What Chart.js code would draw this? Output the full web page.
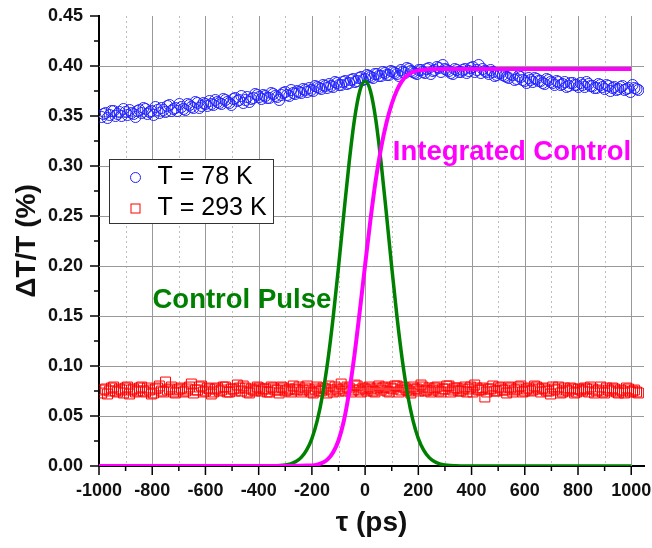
<!DOCTYPE html>
<html>
<head>
<meta charset="utf-8">
<script src="https://cdn.jsdelivr.net/npm/chart.js@4.4.1/dist/chart.umd.min.js"></script>
<style>
  html, body { margin: 0; padding: 0; background: #fff; }
  #grafico { display: block; }
</style>
</head>
<body>
<canvas id="grafico" width="652" height="548"></canvas>
<script>
// --- DADOS ---
// duas varreduras intercaladas de cada amostra
const tau = [
  -990, -975, -960, -945, -930, -915, -900, -885, -870, -855,
  -840, -825, -810, -795, -780, -765, -750, -735, -720, -705,
  -690, -675, -660, -645, -630, -615, -600, -585, -570, -555,
  -540, -525, -510, -495, -480, -465, -450, -435, -420, -405,
  -390, -375, -360, -345, -330, -315, -300, -285, -270, -255,
  -240, -225, -210, -195, -180, -165, -150, -135, -120, -105,
  -90, -75, -60, -45, -30, -15, 0, 15, 30, 45,
  60, 75, 90, 105, 120, 135, 150, 165, 180, 195,
  210, 225, 240, 255, 270, 285, 300, 315, 330, 345,
  360, 375, 390, 405, 420, 435, 450, 465, 480, 495,
  510, 525, 540, 555, 570, 585, 600, 615, 630, 645,
  660, 675, 690, 705, 720, 735, 750, 765, 780, 795,
  810, 825, 840, 855, 870, 885, 900, 915, 930, 945,
  960, 975, 990, 1005, 1020
];
const tau2 = [
  -983, -968, -953, -938, -923, -908, -893, -878, -863, -848,
  -833, -818, -803, -788, -773, -758, -743, -728, -713, -698,
  -683, -668, -653, -638, -623, -608, -593, -578, -563, -548,
  -533, -518, -503, -488, -473, -458, -443, -428, -413, -398,
  -383, -368, -353, -338, -323, -308, -293, -278, -263, -248,
  -233, -218, -203, -188, -173, -158, -143, -128, -113, -98,
  -83, -68, -53, -38, -23, -8, 7, 22, 37, 52,
  67, 82, 97, 112, 127, 142, 157, 172, 187, 202,
  217, 232, 247, 262, 277, 292, 307, 322, 337, 352,
  367, 382, 397, 412, 427, 442, 457, 472, 487, 502,
  517, 532, 547, 562, 577, 592, 607, 622, 637, 652,
  667, 682, 697, 712, 727, 742, 757, 772, 787, 802,
  817, 832, 847, 862, 877, 892, 907, 922, 937, 952,
  967, 982, 997, 1012, 1027
];

const t78K = [
  0.349, 0.353, 0.351, 0.355, 0.352, 0.350, 0.354, 0.356, 0.352, 0.355,
  0.353, 0.357, 0.354, 0.351, 0.356, 0.358, 0.354, 0.361, 0.357, 0.355,
  0.359, 0.356, 0.361, 0.358, 0.363, 0.360, 0.362, 0.365, 0.361, 0.364,
  0.362, 0.366, 0.363, 0.367, 0.365, 0.370, 0.366, 0.364, 0.368, 0.371,
  0.367, 0.370, 0.368, 0.372, 0.369, 0.371, 0.374, 0.370, 0.373, 0.375,
  0.373, 0.376, 0.378, 0.375, 0.379, 0.377, 0.380, 0.382, 0.379, 0.383,
  0.381, 0.385, 0.383, 0.387, 0.385, 0.389, 0.387, 0.390, 0.388, 0.392,
  0.390, 0.393, 0.391, 0.394, 0.392, 0.396, 0.393, 0.397, 0.394, 0.392,
  0.396, 0.393, 0.398, 0.395, 0.399, 0.394, 0.397, 0.395, 0.392, 0.396,
  0.394, 0.397, 0.395, 0.399, 0.396, 0.393, 0.395, 0.392, 0.394, 0.391,
  0.393, 0.390, 0.388, 0.391, 0.387, 0.389, 0.385, 0.388, 0.384, 0.387,
  0.385, 0.382, 0.386, 0.383, 0.385, 0.381, 0.384, 0.380, 0.383, 0.381,
  0.383, 0.379, 0.382, 0.380, 0.378, 0.381, 0.377, 0.380, 0.378, 0.376,
  0.379, 0.376, 0.378, 0.381, 0.377
];
const t78Kb = [
  0.352, 0.348, 0.355, 0.350, 0.354, 0.357, 0.351, 0.353, 0.349, 0.356,
  0.358, 0.352, 0.355, 0.359, 0.353, 0.356, 0.360, 0.355, 0.358, 0.362,
  0.357, 0.362, 0.359, 0.364, 0.358, 0.363, 0.360, 0.362, 0.366, 0.363,
  0.367, 0.364, 0.361, 0.368, 0.366, 0.363, 0.369, 0.367, 0.372, 0.369,
  0.371, 0.368, 0.373, 0.370, 0.366, 0.373, 0.371, 0.376, 0.372, 0.374,
  0.377, 0.374, 0.376, 0.380, 0.378, 0.381, 0.378, 0.380, 0.384, 0.381,
  0.384, 0.382, 0.386, 0.384, 0.388, 0.386, 0.391, 0.389, 0.392, 0.390,
  0.394, 0.391, 0.395, 0.393, 0.390, 0.394, 0.398, 0.395, 0.393, 0.396,
  0.394, 0.397, 0.392, 0.396, 0.398, 0.401, 0.396, 0.393, 0.397, 0.394,
  0.396, 0.393, 0.398, 0.394, 0.401, 0.397, 0.394, 0.396, 0.390, 0.393,
  0.391, 0.389, 0.392, 0.386, 0.390, 0.386, 0.383, 0.386, 0.388, 0.385,
  0.383, 0.387, 0.384, 0.381, 0.384, 0.382, 0.379, 0.383, 0.381, 0.379,
  0.381, 0.384, 0.380, 0.378, 0.382, 0.379, 0.381, 0.375, 0.379, 0.377,
  0.380, 0.377, 0.374, 0.378, 0.376
];

const t293K = [
  0.073, 0.077, 0.075, 0.079, 0.074, 0.076, 0.078, 0.072, 0.077, 0.075,
  0.079, 0.074, 0.076, 0.073, 0.078, 0.075, 0.084, 0.077, 0.074, 0.076,
  0.078, 0.075, 0.079, 0.073, 0.076, 0.080, 0.075, 0.077, 0.074, 0.078,
  0.076, 0.079, 0.074, 0.077, 0.081, 0.075, 0.078, 0.073, 0.076, 0.079,
  0.075, 0.077, 0.074, 0.078, 0.076, 0.079, 0.075, 0.077, 0.080, 0.076,
  0.074, 0.078, 0.076, 0.073, 0.079, 0.075, 0.077, 0.080, 0.074, 0.077,
  0.082, 0.075, 0.078, 0.076, 0.080, 0.074, 0.077, 0.079, 0.075, 0.078,
  0.076, 0.079, 0.074, 0.077, 0.080, 0.076, 0.078, 0.075, 0.079, 0.077,
  0.081, 0.075, 0.078, 0.076, 0.079, 0.074, 0.077, 0.080, 0.076, 0.078,
  0.075, 0.079, 0.077, 0.074, 0.078, 0.076, 0.069, 0.077, 0.080, 0.075,
  0.078, 0.076, 0.079, 0.074, 0.077, 0.080, 0.075, 0.078, 0.076, 0.079,
  0.074, 0.077, 0.075, 0.079, 0.076, 0.073, 0.078, 0.075, 0.077, 0.074,
  0.076, 0.078, 0.074, 0.077, 0.075, 0.079, 0.073, 0.076, 0.078, 0.074,
  0.076, 0.073, 0.077, 0.075, 0.074
];
const t293Kb = [
  0.076, 0.072, 0.078, 0.075, 0.077, 0.073, 0.079, 0.076, 0.074, 0.078,
  0.075, 0.078, 0.072, 0.077, 0.080, 0.074, 0.076, 0.079, 0.073, 0.077,
  0.074, 0.077, 0.082, 0.076, 0.079, 0.074, 0.078, 0.072, 0.077, 0.075,
  0.079, 0.074, 0.077, 0.075, 0.078, 0.080, 0.074, 0.077, 0.075, 0.078,
  0.077, 0.074, 0.079, 0.076, 0.073, 0.078, 0.076, 0.074, 0.077, 0.079,
  0.076, 0.080, 0.074, 0.077, 0.075, 0.078, 0.073, 0.076, 0.079, 0.075,
  0.077, 0.079, 0.074, 0.081, 0.076, 0.078, 0.075, 0.077, 0.074, 0.080,
  0.078, 0.075, 0.078, 0.080, 0.074, 0.079, 0.076, 0.073, 0.077, 0.075,
  0.079, 0.076, 0.074, 0.078, 0.075, 0.077, 0.080, 0.074, 0.078, 0.075,
  0.077, 0.074, 0.079, 0.081, 0.076, 0.078, 0.074, 0.077, 0.075, 0.079,
  0.076, 0.073, 0.078, 0.076, 0.079, 0.074, 0.077, 0.075, 0.080, 0.077,
  0.078, 0.075, 0.072, 0.077, 0.079, 0.074, 0.076, 0.078, 0.073, 0.077,
  0.075, 0.077, 0.079, 0.073, 0.076, 0.074, 0.078, 0.075, 0.077, 0.073,
  0.075, 0.078, 0.074, 0.076, 0.073
];

// pulso de controle (curva verde)
const pulseX = [-340, -320, -300, -280, -260, -240, -220, -200, -180, -160, -140, -120, -100, -80, -60, -40, -20, 0,
  20, 40, 60, 80, 100, 120, 140, 160, 180, 200, 220, 240, 260, 280, 300, 320, 340, 360, 1000];
const pulseY = [0.0002, 0.0004, 0.0010, 0.0022, 0.0044, 0.0086, 0.0158, 0.0274, 0.0453, 0.0710, 0.1055, 0.1487, 0.1989, 0.2522, 0.3035, 0.3466, 0.3750, 0.3850,
  0.3750, 0.3466, 0.3035, 0.2522, 0.1989, 0.1487, 0.1055, 0.0710, 0.0453, 0.0274, 0.0158, 0.0086, 0.0044, 0.0022, 0.0010, 0.0004, 0.0002, 0.0001, 0];

// controle integrado (curva magenta)
const integX = [-1000, -300, -260, -220, -200, -180, -160, -140, -120, -100, -80, -60, -40, -20, 0,
  20, 40, 60, 80, 100, 120, 140, 160, 180, 200, 240, 300, 1000];
const integY = [0, 0, 0.0002, 0.0004, 0.0006, 0.0014, 0.0032, 0.0068, 0.0137, 0.0255, 0.045, 0.074, 0.111, 0.155, 0.201,
  0.246, 0.286, 0.318, 0.343, 0.362, 0.376, 0.3855, 0.391, 0.394, 0.3956, 0.3968, 0.397, 0.397];

const xTicks = [-1000, -900, -800, -700, -600, -500, -400, -300, -200, -100, 0, 100, 200, 300, 400, 500, 600, 700, 800, 900, 1000];
const xLabels = [-1000, -800, -600, -400, -200, 0, 200, 400, 600, 800, 1000];
const yTicks = [0, 0.025, 0.05, 0.075, 0.1, 0.125, 0.15, 0.175, 0.2, 0.225, 0.25, 0.275, 0.3, 0.325, 0.35, 0.375, 0.4, 0.425, 0.45];
const yLabels = ['0.00', '0.05', '0.10', '0.15', '0.20', '0.25', '0.30', '0.35', '0.40', '0.45'];

const FONTE = "'Liberation Sans', Arial, sans-serif";
const pares = (xs, ys) => xs.map((v, i) => ({ x: v, y: ys[i] }));
const ehMaiorY = (v) => Math.round(v * 1000) % 50 === 0;

// --- GRADE, MARCAS, LEGENDA E RÓTULOS ---
const moldura = {
  id: 'moldura',
  beforeDatasetsDraw(chart) {
    const { ctx, chartArea: a, scales: { x, y } } = chart;
    ctx.save();
    ctx.lineWidth = 1;
    xTicks.forEach(v => {
      if (v === -1000) return;
      const px = Math.round(x.getPixelForValue(v)) + 0.5;
      const maior = xLabels.includes(v);
      ctx.strokeStyle = maior ? '#999999' : '#bdbdbd';
      ctx.setLineDash(maior ? [] : [2, 3]);
      ctx.beginPath();
      ctx.moveTo(px, a.top);
      ctx.lineTo(px, a.bottom);
      ctx.stroke();
    });
    ctx.setLineDash([]);
    ctx.strokeStyle = '#999999';
    yTicks.forEach(v => {
      if (!ehMaiorY(v) || v === 0 || v === 0.45) return;
      const py = Math.round(y.getPixelForValue(v)) + 0.5;
      ctx.beginPath();
      ctx.moveTo(a.left, py);
      ctx.lineTo(a.right, py);
      ctx.stroke();
    });
    ctx.restore();
  },
  afterDraw(chart) {
    const { ctx, chartArea: a, scales: { x, y } } = chart;
    ctx.save();
    ctx.strokeStyle = '#000';
    ctx.lineWidth = 1.5;
    xTicks.forEach(v => {
      const px = x.getPixelForValue(v);
      const len = xLabels.includes(v) ? 9 : 5;
      ctx.beginPath();
      ctx.moveTo(px, a.bottom);
      ctx.lineTo(px, a.bottom + len);
      ctx.stroke();
    });
    yTicks.forEach(v => {
      const py = y.getPixelForValue(v);
      const len = ehMaiorY(v) ? 9 : 5;
      ctx.beginPath();
      ctx.moveTo(a.left, py);
      ctx.lineTo(a.left - len, py);
      ctx.stroke();
    });

    // legenda
    const lx = Math.round(x.getPixelForValue(-962)) + 0.5;
    const ly = Math.round(y.getPixelForValue(0.307)) + 0.5;
    ctx.fillStyle = '#fff';
    ctx.fillRect(lx, ly, 164, 64);
    ctx.strokeStyle = '#333';
    ctx.lineWidth = 1;
    ctx.strokeRect(lx, ly, 164, 64);
    ctx.strokeStyle = '#2222ff';
    ctx.beginPath();
    ctx.arc(lx + 26, ly + 18, 5, 0, Math.PI * 2);
    ctx.stroke();
    ctx.strokeStyle = '#ff0000';
    ctx.strokeRect(lx + 21.5, ly + 44.5, 9, 9);
    ctx.fillStyle = '#000';
    ctx.font = '25px ' + FONTE;
    ctx.textBaseline = 'middle';
    ctx.textAlign = 'left';
    ctx.fillText(chart.data.datasets[0].label, lx + 48, ly + 18);
    ctx.fillText(chart.data.datasets[1].label, lx + 48, ly + 49);

    // rótulos das curvas
    ctx.textBaseline = 'alphabetic';
    ctx.font = 'bold 27.5px ' + FONTE;
    ctx.fillStyle = '#ff00ff';
    ctx.fillText('Integrated Control', x.getPixelForValue(104), y.getPixelForValue(0.3064));
    ctx.fillStyle = '#008000';
    ctx.fillText('Control Pulse', x.getPixelForValue(-799), y.getPixelForValue(0.1584));
    ctx.restore();
  }
};

const ctx = document.getElementById('grafico').getContext('2d');
new Chart(ctx, {
  type: 'scatter',
  data: {
    datasets: [
      {
        label: 'T = 78 K',
        data: pares(tau, t78K).concat(pares(tau2, t78Kb)),
        pointStyle: 'circle',
        pointRadius: 5.5,
        borderColor: '#2222ff',
        backgroundColor: 'rgba(0,0,0,0)',
        borderWidth: 1,
        order: 3
      },
      {
        label: 'T = 293 K',
        data: pares(tau, t293K).concat(pares(tau2, t293Kb)),
        pointStyle: 'rect',
        pointRadius: 7,
        borderColor: '#ff0000',
        backgroundColor: 'rgba(0,0,0,0)',
        borderWidth: 1,
        order: 4
      },
      {
        label: 'Control Pulse',
        type: 'line',
        data: pares(pulseX, pulseY),
        borderColor: '#008000',
        borderWidth: 3.5,
        pointRadius: 0,
        cubicInterpolationMode: 'monotone',
        fill: false,
        order: 2
      },
      {
        label: 'Integrated Control',
        type: 'line',
        data: pares(integX, integY),
        borderColor: '#ff00ff',
        borderWidth: 4,
        pointRadius: 0,
        cubicInterpolationMode: 'monotone',
        fill: false,
        order: 1
      }
    ]
  },
  options: {
    responsive: false,
    animation: false,
    layout: { padding: { top: 16, right: 0, bottom: 0, left: 0 } },
    plugins: {
      legend: { display: false },
      tooltip: { enabled: false }
    },
    scales: {
      x: {
        type: 'linear',
        min: -1000,
        max: 1048,
        afterBuildTicks: (axis) => { axis.ticks = xTicks.map(v => ({ value: v })); },
        afterFit: (scale) => {
          scale.height = 82;
          scale.paddingLeft = 0;
          scale.paddingRight = 0;
        },
        grid: { display: false, drawTicks: false },
        border: { display: true, color: '#000', width: 2 },
        ticks: {
          autoSkip: false,
          maxRotation: 0,
          padding: 14,
          color: '#111',
          font: { family: FONTE, size: 18, weight: 'bold' },
          callback: (v) => xLabels.includes(v) ? String(v) : ''
        },
        title: {
          display: true,
          text: 'τ (ps)',
          color: '#111',
          padding: { top: 0, bottom: 8 },
          font: { family: FONTE, size: 28, weight: 'bold' }
        }
      },
      y: {
        min: 0,
        max: 0.45,
        afterBuildTicks: (axis) => { axis.ticks = yTicks.map(v => ({ value: v })); },
        afterFit: (scale) => {
          scale.width = 99;
          scale.paddingTop = 0;
          scale.paddingBottom = 0;
        },
        grid: { display: false, drawTicks: false },
        border: { display: true, color: '#000', width: 2 },
        ticks: {
          autoSkip: false,
          padding: 16,
          color: '#111',
          font: { family: FONTE, size: 18, weight: 'bold' },
          callback: (v) => ehMaiorY(v) ? yLabels[Math.round(v * 20)] : ''
        },
        title: {
          display: true,
          text: 'ΔT/T (%)',
          color: '#111',
          padding: { top: 10, bottom: 0 },
          font: { family: FONTE, size: 28, weight: 'bold' }
        }
      }
    }
  },
  plugins: [moldura]
});
</script>
</body>
</html>
